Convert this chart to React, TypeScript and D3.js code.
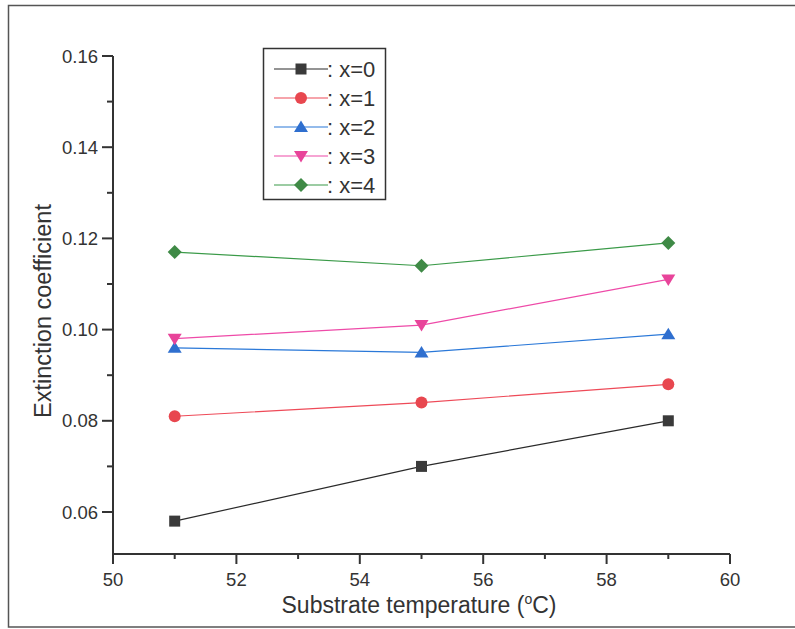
import React, { useRef, useEffect } from 'react';
import * as d3 from 'd3';

// substrate temperatures (°C)
const temps = [51, 55, 59];

// extinction coefficient per composition
const seriesNames = [': x=0', ': x=1', ': x=2', ': x=3', ': x=4'];
const k0 = [0.058, 0.070, 0.080];
const k1 = [0.081, 0.084, 0.088];
const k2 = [0.096, 0.095, 0.099];
const k3 = [0.098, 0.101, 0.111];
const k4 = [0.117, 0.114, 0.119];

const xTicks = [50, 52, 54, 56, 58, 60];
const yTicks = [0.06, 0.08, 0.10, 0.12, 0.14, 0.16];

const colors = ['#3a3a3a', '#e8474f', '#2f6fcf', '#e8449a', '#3f8a46'];
const lineColors = ['#2a2a2a', '#ee4a58', '#2a78d8', '#ee4aa8', '#3a9a48'];
const symbols = ['square', 'circle', 'up', 'down', 'diamond'];

const App = () => {
  const svgRef = useRef(null);

  useEffect(() => {
    const svg = d3.select(svgRef.current);
    svg.selectAll('*').remove();

    const left = 113, right = 730, top = 56, bottom = 554;
    const font = 'Liberation Sans, Arial, sans-serif';
    const ink = '#333';

    const x = d3.scaleLinear().domain([50, 60]).range([left, right]);
    const y = d3.scaleLinear().domain([0.06, 0.16]).range([512, 56]);

    // scan frame
    svg.append('path')
      .attr('d', `M795,5.5 H8.5 V627 H795`)
      .attr('fill', 'none')
      .attr('stroke', '#555')
      .attr('stroke-width', 1.5);

    const drawMarker = (g, kind, cx, cy, fill) => {
      if (kind === 'square') {
        g.append('rect').attr('x', cx - 5.5).attr('y', cy - 5.5).attr('width', 11).attr('height', 11).attr('fill', fill);
      } else if (kind === 'circle') {
        g.append('circle').attr('cx', cx).attr('cy', cy).attr('r', 6).attr('fill', fill);
      } else if (kind === 'up') {
        g.append('path').attr('d', `M${cx},${cy - 6.5} L${cx + 7},${cy + 5} L${cx - 7},${cy + 5} Z`).attr('fill', fill);
      } else if (kind === 'down') {
        g.append('path').attr('d', `M${cx},${cy + 6.5} L${cx + 7},${cy - 5} L${cx - 7},${cy - 5} Z`).attr('fill', fill);
      } else {
        g.append('path').attr('d', `M${cx},${cy - 7} L${cx + 7},${cy} L${cx},${cy + 7} L${cx - 7},${cy} Z`).attr('fill', fill);
      }
    };

    // axes
    const ax = svg.append('g').attr('stroke', ink).attr('stroke-width', 2);
    ax.append('line').attr('x1', left).attr('x2', left).attr('y1', top).attr('y2', bottom + 1);
    ax.append('line').attr('x1', left - 1).attr('x2', right).attr('y1', bottom).attr('y2', bottom);

    yTicks.forEach(t => {
      ax.append('line').attr('x1', left - 11).attr('x2', left).attr('y1', y(t)).attr('y2', y(t));
      svg.append('text')
        .attr('x', left - 15).attr('y', y(t) + 6.5)
        .attr('text-anchor', 'end')
        .attr('font-family', font).attr('font-size', 18.5).attr('fill', ink)
        .text(t.toFixed(2));
    });
    [0.07, 0.09, 0.11, 0.13, 0.15].forEach(t => {
      ax.append('line').attr('x1', left - 6).attr('x2', left).attr('y1', y(t)).attr('y2', y(t));
    });

    xTicks.forEach(t => {
      ax.append('line').attr('x1', x(t)).attr('x2', x(t)).attr('y1', bottom).attr('y2', bottom + 10);
      svg.append('text')
        .attr('x', x(t)).attr('y', bottom + 32)
        .attr('text-anchor', 'middle')
        .attr('font-family', font).attr('font-size', 18.5).attr('fill', ink)
        .text(t);
    });
    [51, 53, 55, 57, 59].forEach(t => {
      ax.append('line').attr('x1', x(t)).attr('x2', x(t)).attr('y1', bottom).attr('y2', bottom + 5);
    });

    // axis titles
    const xt = svg.append('text')
      .attr('x', 419).attr('y', 613)
      .attr('text-anchor', 'middle')
      .attr('font-family', font).attr('font-size', 23).attr('fill', ink);
    xt.append('tspan').text('Substrate temperature (');
    xt.append('tspan').attr('font-size', 14).attr('dy', -9).text('o');
    xt.append('tspan').attr('dy', 9).text('C)');

    svg.append('text')
      .attr('transform', 'translate(51,311) rotate(-90)')
      .attr('text-anchor', 'middle')
      .attr('font-family', font).attr('font-size', 23.5).attr('fill', ink)
      .text('Extinction coefficient');

    // series
    const allSeries = [k0, k1, k2, k3, k4];
    const line = d3.line().x(d => x(d[0])).y(d => y(d[1]));
    allSeries.forEach((vals, i) => {
      const pts = temps.map((t, j) => [t, vals[j]]);
      svg.append('path')
        .attr('d', line(pts))
        .attr('fill', 'none')
        .attr('stroke', lineColors[i])
        .attr('stroke-width', 1.2);
      const g = svg.append('g');
      pts.forEach(p => drawMarker(g, symbols[i], x(p[0]), y(p[1]), colors[i]));
    });

    // legend
    svg.append('rect')
      .attr('x', 263.5).attr('y', 48.5).attr('width', 122).attr('height', 151)
      .attr('fill', 'white').attr('stroke', ink).attr('stroke-width', 1.5);
    seriesNames.forEach((name, i) => {
      const ly = 69 + i * 29;
      svg.append('line')
        .attr('x1', 274).attr('x2', 328).attr('y1', ly).attr('y2', ly)
        .attr('stroke', lineColors[i]).attr('stroke-width', 1.2);
      drawMarker(svg.append('g'), symbols[i], 301, ly, colors[i]);
      svg.append('text')
        .attr('x', 327).attr('y', ly + 8)
        .attr('font-family', font).attr('font-size', 22).attr('fill', ink)
        .text(name);
    });
  }, []);

  return (
    <svg ref={svgRef} width={795} height={629} style={{ position: 'absolute', left: 0, top: 0, background: 'white' }} />
  );
};

export default App;
